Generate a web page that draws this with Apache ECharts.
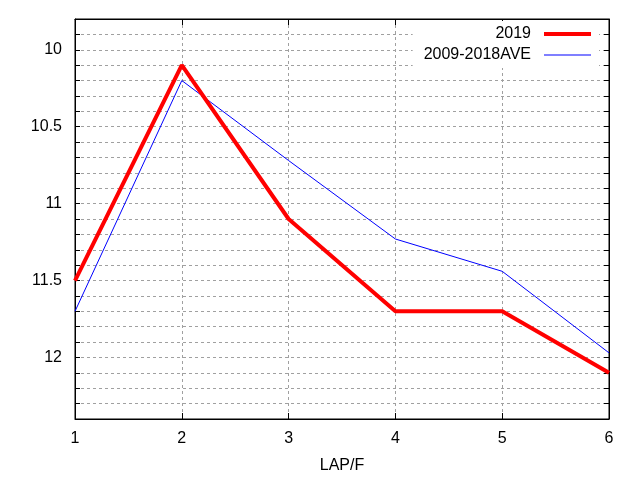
<!DOCTYPE html>
<html>
<head>
<meta charset="utf-8">
<script src="https://cdn.jsdelivr.net/npm/echarts@6/dist/echarts.min.js"></script>
<style>
  html, body { margin: 0; padding: 0; background: #fff; }
  #main { width: 640px; height: 480px; }
</style>
</head>
<body>
<div id="main"></div>
<script>
// 数据
var laps = [1, 2, 3, 4, 5, 6];
var y2019 = [11.5, 10.1, 11.1, 11.7, 11.7, 12.1];
var yAve = [11.7, 10.2, 10.72, 11.23, 11.44, 11.97];
var yMajorLabels = [10, 10.5, 11, 11.5, 12];

function pairs(xs, ys) {
    return xs.map(function (x, i) { return [x, ys[i]]; });
}

var font = 'Liberation Sans, Arial, sans-serif';
var gridLine = { show: true, lineStyle: { color: '#a0a0a0', type: [3, 3], width: 1 } };

function yLabel(v) {
    for (var i = 0; i < yMajorLabels.length; i++) {
        if (Math.abs(v - yMajorLabels[i]) < 1e-6) return String(yMajorLabels[i]);
    }
    return '';
}

var myChart = echarts.init(document.getElementById('main'), null, { renderer: 'canvas' });
myChart.setOption({
    animation: false,
    backgroundColor: '#fff',
    textStyle: { fontFamily: font },
    grid: {
        left: 75, right: 31, top: 19, bottom: 61,
        show: true, borderColor: '#000', borderWidth: 1, backgroundColor: 'transparent'
    },
    legend: {
        orient: 'vertical',
        right: 41,
        top: 21,
        align: 'right',
        itemWidth: 47,
        itemHeight: 14,
        itemGap: 5,
        padding: [5, 8, 5, 11],
        backgroundColor: '#fff',
        textStyle: { fontSize: 16, color: '#000', fontFamily: font, padding: [0, 8, 0, 0], lineHeight: 14 },
        data: [
            { name: '2019', icon: 'path://M0,0L47,0L47,4L0,4Z', itemStyle: { color: '#ff0000' } },
            { name: '2009-2018AVE', icon: 'path://M0,0L47,0L47,1L0,1Z', itemStyle: { color: '#0000ff' } }
        ]
    },
    xAxis: [{
        type: 'value',
        min: 1, max: 6, interval: 1,
        name: 'LAP/F',
        nameLocation: 'middle',
        nameGap: 39,
        nameTextStyle: { fontSize: 16, color: '#000', fontFamily: font },
        axisLine: { show: true, onZero: false, lineStyle: { color: '#000' } },
        axisTick: { show: true, inside: true, length: 6, lineStyle: { color: '#000' } },
        axisLabel: { fontSize: 16, color: '#000', margin: 12, fontFamily: font },
        splitLine: gridLine
    }, {
        type: 'value', position: 'top',
        min: 1, max: 6, interval: 1,
        axisLine: { show: true, lineStyle: { color: '#000' } },
        axisTick: { show: true, inside: true, length: 6, lineStyle: { color: '#000' } },
        axisLabel: { show: false },
        splitLine: { show: false }
    }],
    yAxis: [{
        type: 'value',
        inverse: true,
        min: 9.8, max: 12.4, interval: 0.1,
        axisLine: { show: true, onZero: false, lineStyle: { color: '#000' } },
        axisTick: { show: true, inside: true, length: 5, lineStyle: { color: '#000' } },
        axisLabel: { fontSize: 16, color: '#000', margin: 13, fontFamily: font, formatter: yLabel },
        splitLine: gridLine
    }, {
        type: 'value', position: 'right',
        inverse: true,
        min: 9.8, max: 12.4, interval: 0.1,
        axisLine: { show: true, lineStyle: { color: '#000' } },
        axisTick: { show: true, inside: true, length: 5, lineStyle: { color: '#000' } },
        axisLabel: { show: false },
        splitLine: { show: false }
    }],
    series: [{
        name: '2019',
        type: 'line',
        symbol: 'none',
        color: '#ff0000',
        lineStyle: { color: '#ff0000', width: 4 },
        data: pairs(laps, y2019),
        z: 3
    }, {
        name: '2009-2018AVE',
        type: 'line',
        symbol: 'none',
        color: '#0000ff',
        lineStyle: { color: '#0000ff', width: 1 },
        data: pairs(laps, yAve),
        z: 2
    }]
});
</script>
</body>
</html>
